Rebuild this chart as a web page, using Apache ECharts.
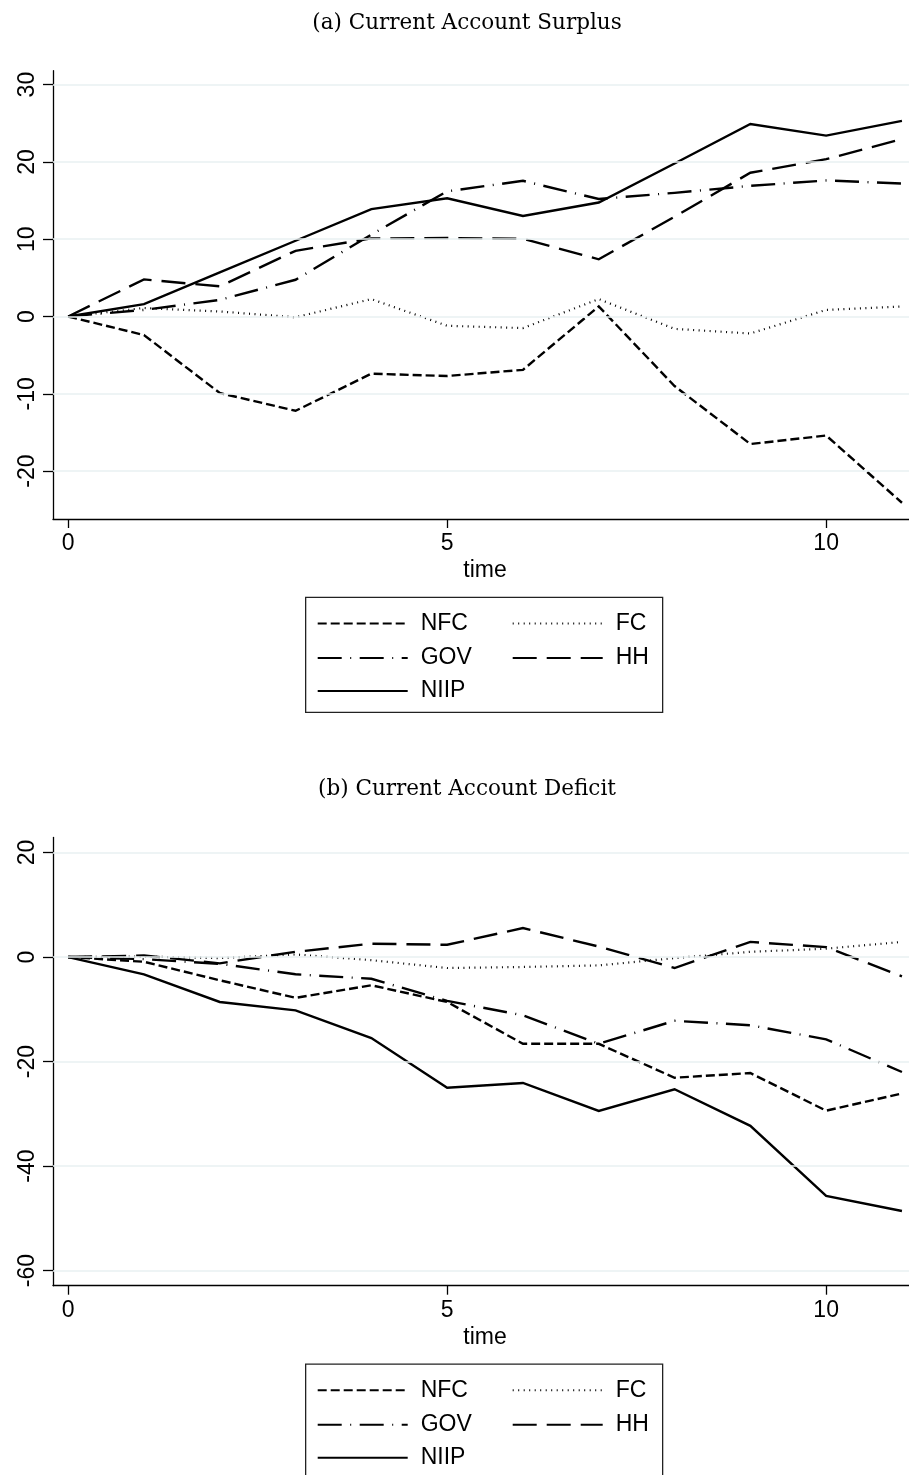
<!DOCTYPE html>
<html><head><meta charset="utf-8">
<script src="https://cdn.jsdelivr.net/npm/echarts@6/dist/echarts.min.js"></script>
<style>html,body{margin:0;padding:0;background:#fff}#c{width:909px;height:1475px}</style>
</head><body><div id="c"></div>
<script>
// ---------- DATA ----------
const periods = [0,1,2,3,4,5,6,7,8,9,10,11];
const seriesNames = ['NFC','FC','GOV','HH','NIIP'];
const panelTitles = ['(a) Current Account Surplus', '(b) Current Account Deficit'];
const xAxisName = 'time';
const xTicks = [0,5,10];
const surplusYTicks = [-20,-10,0,10,20,30];
const deficitYTicks = [-60,-40,-20,0,20];

// (a) Current Account Surplus
const surplusNFC  = [0, -2.4, -9.9, -12.2, -7.4, -7.7, -6.9, 1.3, -9.0, -16.5, -15.4, -24.1];
const surplusFC   = [0, 1.1, 0.65, -0.1, 2.25, -1.2, -1.5, 2.25, -1.6, -2.2, 0.85, 1.3];
const surplusGOV  = [0, 0.85, 2.15, 4.75, 10.6, 16.2, 17.55, 15.2, 16.0, 16.9, 17.6, 17.2];
const surplusHH   = [0, 4.8, 3.9, 8.5, 10.1, 10.15, 10.05, 7.4, 12.9, 18.6, 20.35, 22.95];
const surplusNIIP = [0, 1.6, 5.7, 9.8, 13.9, 15.3, 13.0, 14.75, 19.8, 24.9, 23.4, 25.3];

// (b) Current Account Deficit
const deficitNFC  = [0, -0.9, -4.45, -7.8, -5.4, -8.6, -16.6, -16.6, -23.1, -22.2, -29.4, -26.1];
const deficitFC   = [0, 0.1, -0.2, 0.5, -0.6, -2.1, -1.9, -1.6, -0.2, 1.0, 1.6, 2.9];
const deficitGOV  = [0, -0.4, -1.3, -3.3, -4.15, -8.4, -11.15, -16.6, -12.2, -13.05, -15.75, -22.0];
const deficitHH   = [0, 0.3, -1.2, 1.0, 2.55, 2.35, 5.55, 2.0, -2.1, 2.9, 1.9, -3.7];
const deficitNIIP = [0, -3.3, -8.6, -10.2, -15.5, -25.0, -24.1, -29.45, -25.3, -32.3, -45.7, -48.6];

// ---------- STYLE / LAYOUT ----------
const panelOffset = 766.7;
const gridTop0 = 70.7, gridHeight = 448.3, gridLeft = 53;
const yRanges = [[-26.2, 31.8], [-62.9, 22.9]];
const xRange = [-0.2, 11.093];
const lineStyles = {
  NFC:  {type: [9, 4], width: 2.4},
  FC:   {type: [1, 4.5], width: 2.2},
  GOV:  {type: [24, 8.5, 1, 8.5], width: 2.4},
  HH:   {type: [24, 10], width: 2.4},
  NIIP: {type: 'solid', width: 2.4}
};
const gridColor = '#E8F0F2';
const sansFont = 'Liberation Sans';
const serifFont = 'DejaVu Serif';

const panelData = [
  {NFC: surplusNFC, FC: surplusFC, GOV: surplusGOV, HH: surplusHH, NIIP: surplusNIIP},
  {NFC: deficitNFC, FC: deficitFC, GOV: deficitGOV, HH: deficitHH, NIIP: deficitNIIP}
];
const panelYTicks = [surplusYTicks, deficitYTicks];

const legendLayout = {
  NFC: {col: 0, row: 0}, FC: {col: 1, row: 0},
  GOV: {col: 0, row: 1}, HH: {col: 1, row: 1},
  NIIP: {col: 0, row: 2}
};
const legendColX = [316.7, 511.7];
const legendRowY = [622, 656.5, 689.5];

const grids = [], xAxes = [], yAxes = [], series = [], legends = [], titles = [], graphics = [];

for (let p = 0; p < 2; p++) {
  const off = p * panelOffset;
  grids.push({left: gridLeft, right: 0, top: gridTop0 + off, height: gridHeight, containLabel: false, outerBoundsMode: 'none'});
  xAxes.push({
    type: 'value', gridIndex: p, min: xRange[0], max: xRange[1],
    name: xAxisName, nameLocation: 'middle', nameGap: 40,
    nameTextStyle: {fontFamily: sansFont, fontSize: 23, color: '#000', padding: [0, 0, 0, 8]},
    axisLine: {show: true, onZero: false, lineStyle: {color: '#000', width: 1.3}},
    axisTick: {show: true, length: 9, customValues: xTicks, lineStyle: {color: '#000', width: 1.3}},
    axisLabel: {customValues: xTicks, margin: 13, fontFamily: sansFont, fontSize: 23, color: '#000'},
    splitLine: {show: false}
  });
  yAxes.push({
    type: 'value', gridIndex: p, min: yRanges[p][0], max: yRanges[p][1],
    axisLine: {show: true, onZero: false, lineStyle: {color: '#000', width: 1.3}},
    axisTick: {show: true, length: 10, customValues: panelYTicks[p], lineStyle: {color: '#000', width: 1.3}},
    axisLabel: {customValues: panelYTicks[p], rotate: 90, margin: 14, fontFamily: sansFont, fontSize: 23, color: '#000'},
    splitLine: {show: false}
  });
  // gridlines
  series.push({
    type: 'line', name: 'grid' + p, xAxisIndex: p, yAxisIndex: p, data: [], silent: true, z: 1,
    markLine: {
      silent: true, symbol: 'none', label: {show: false}, animation: false,
      lineStyle: {color: gridColor, width: 1.6, type: 'solid'},
      data: panelYTicks[p].map(v => ({yAxis: v}))
    }
  });
  seriesNames.forEach(name => {
    const vals = panelData[p][name];
    series.push({
      type: 'line', name: name, xAxisIndex: p, yAxisIndex: p,
      data: periods.map((t, i) => [t, vals[i]]),
      symbol: 'none', showSymbol: false, animation: false, z: 3,
      lineStyle: {color: '#000', width: lineStyles[name].width, type: lineStyles[name].type, join: 'miter', cap: 'butt'}
    });
    const lay = legendLayout[name];
    legends.push({
      data: [name], left: legendColX[lay.col], top: legendRowY[lay.row] + off - 10,
      orient: 'horizontal', padding: 0, itemWidth: 90, itemHeight: 20, selectedMode: false,
      itemStyle: {opacity: 0},
      textStyle: {fontFamily: sansFont, fontSize: 23, color: '#000', padding: [0, 0, 0, 8]}
    });
  });
  titles.push({
    text: panelTitles[p], left: 462, textAlign: 'center', top: 7 + off,
    textStyle: {fontFamily: serifFont, fontWeight: 'normal', fontSize: 21.5, color: '#000'}
  });
  graphics.push({
    type: 'rect', left: 305, top: 596.7 + off, z: 0,
    shape: {width: 357, height: 115},
    style: {fill: '#fff', stroke: '#222', lineWidth: 1.3}
  });
}

const chart = echarts.init(document.getElementById('c'), null, {renderer: 'canvas'});
chart.setOption({
  backgroundColor: '#fff',
  animation: false,
  title: titles,
  grid: grids,
  xAxis: xAxes,
  yAxis: yAxes,
  legend: legends,
  graphic: graphics,
  series: series
});
</script>
</body></html>
